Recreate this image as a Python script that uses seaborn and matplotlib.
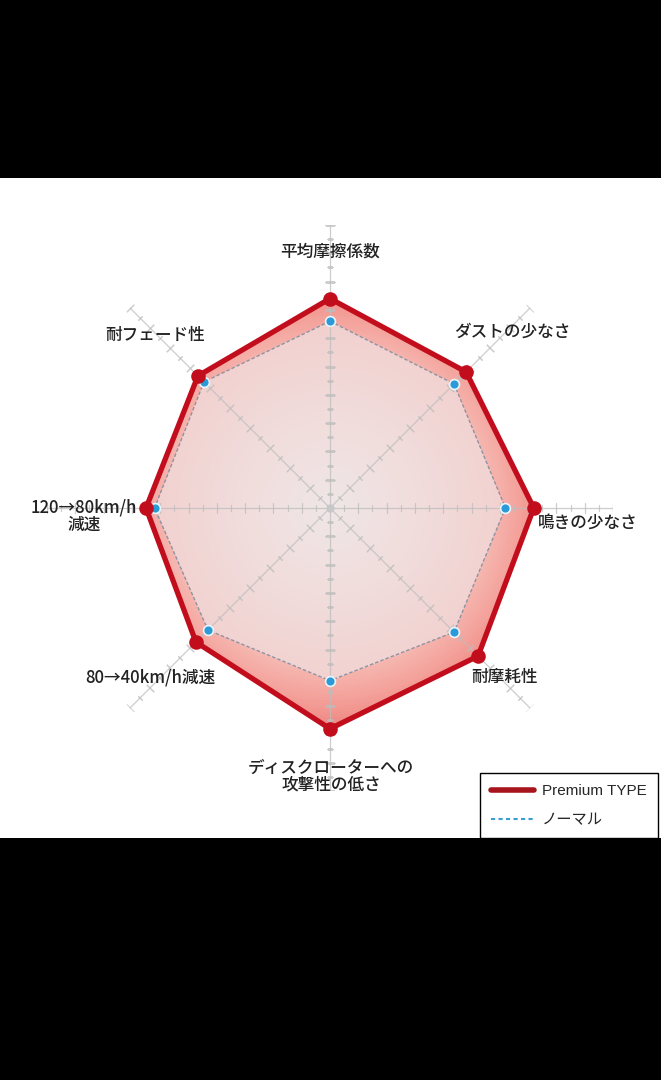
import numpy as np
import matplotlib
matplotlib.use("Agg")
import matplotlib.pyplot as plt
import seaborn as sns
from matplotlib.patches import Rectangle, Polygon
from matplotlib.lines import Line2D
from matplotlib.colors import LinearSegmentedColormap

# ---- data ----
categories = ["平均摩擦係数", "ダストの少なさ", "鳴きの少なさ", "耐摩耗性",
              "ディスクローターへの\n攻撃性の低さ", "80→40km/h減速",
              "120→80km/h\n減速", "耐フェード性"]
premium = [7.4, 6.8, 7.2, 7.4, 7.8, 6.7, 6.5, 6.6]
normal = [6.6, 6.2, 6.2, 6.2, 6.1, 6.1, 6.2, 6.3]
series_names = ["Premium TYPE", "ノーマル"]
r_max = 10

sns.set_theme(style="white")
plt.rcParams['font.family'] = ['Noto Sans CJK JP', 'DejaVu Sans']

W, H = 661, 1080
fig = plt.figure(figsize=(W / 100, H / 100), dpi=100)
fig.patch.set_facecolor("black")
fig.add_artist(Rectangle((0, (H - 838) / H), 1, 660 / H, transform=fig.transFigure,
                         facecolor="white", edgecolor="none", zorder=-10))

cx, cy, R = 330, 508, 283
ax = fig.add_axes([(cx - R) / W, (H - cy - R) / H, 2 * R / W, 2 * R / H], projection="polar")
ax.set_facecolor("none")
ax.set_theta_zero_location("N")
ax.set_theta_direction(-1)
ax.set_ylim(0, r_max)
ax.grid(False)
ax.set_xticks([])
ax.set_yticks([])
ax.spines["polar"].set_visible(False)

n = len(categories)
theta = np.arange(n) * 2 * np.pi / n
th_c = np.append(theta, theta[0])
pr_c = np.append(premium, premium[0])
nr_c = np.append(normal, normal[0])

# gradient fills clipped to polygons
tg = np.linspace(0, 2 * np.pi, 181)
rg = np.linspace(0, r_max, 101)
TT, RR = np.meshgrid(tg, rg)
C = 0.5 * (RR[:-1, :-1] + RR[1:, 1:])

poly_p = Polygon(np.column_stack([th_c, pr_c]), closed=True, transform=ax.transData,
                 facecolor="none", edgecolor="none")
ax.add_patch(poly_p)
cmap_p = LinearSegmentedColormap.from_list("p", ["#f5bcb5", "#f3a19a", "#ec807a"])
m1 = ax.pcolormesh(TT, RR, C, cmap=cmap_p, vmin=5.5, vmax=8.0, shading="flat", zorder=1)
m1.set_clip_path(poly_p)

poly_n = Polygon(np.column_stack([th_c, nr_c]), closed=True, transform=ax.transData,
                 facecolor="none", edgecolor="none")
ax.add_patch(poly_n)
cmap_n = LinearSegmentedColormap.from_list("n", ["#efe6e6", "#f0dcdb", "#f1d0ce"])
m2 = ax.pcolormesh(TT, RR, C, cmap=cmap_n, vmin=0, vmax=6.5, shading="flat", zorder=2)
m2.set_clip_path(poly_n)

# spokes with tick marks
grid_col = "#bdbdbd"
for i, t in enumerate(theta):
    ax.plot([t, t], [0, r_max], color=grid_col, lw=0.9, alpha=0.75, zorder=3)
    ang = 90 - np.degrees(t)
    maj = np.arange(1, r_max + 0.01, 1.0)
    mnr = np.arange(0.5, r_max, 1.0)
    ax.plot(np.full(len(maj), t), maj, ls="none", marker=(2, 2, ang), ms=7.5,
            mec=grid_col, mew=0.8, alpha=0.75, zorder=3)
    ax.plot(np.full(len(mnr), t), mnr, ls="none", marker=(2, 2, ang), ms=4,
            mec=grid_col, mew=0.8, alpha=0.75, zorder=3)
ax.plot([0], [0], marker="o", ms=5, color="#c8c8c8", zorder=3)

# normal series
sns.lineplot(x=th_c, y=nr_c, sort=False, ax=ax, color="#8e93a3", lw=1.0,
             linestyle=(0, (2.5, 1.5)), zorder=4, estimator=None)
sns.scatterplot(x=theta, y=normal, ax=ax, color="#2b9bd8", s=50, edgecolor="#eaf4fb",
                linewidth=1.2, zorder=6)

# premium series
sns.lineplot(x=th_c, y=pr_c, sort=False, ax=ax, color="#c20d1d", lw=3.8, zorder=5,
             estimator=None)
sns.scatterplot(x=theta, y=premium, ax=ax, color="#c20d1d", s=110, edgecolor="#c20d1d",
                linewidth=0, zorder=7)
ax.set_xlabel("")
ax.set_ylabel("")
ax.set_ylim(0, r_max)

# labels (pixel positions)
lab_pos = [(330, 252, "center"), (512, 332, "center"), (588, 523, "center"),
           (505, 677, "center"), (331, 776, "center"), (150, 677, "center"),
           (84, 516, "center"), (155, 335, "center")]
for (x, y, ha), lab in zip(lab_pos, categories):
    fig.text(x / W, 1 - y / H, lab, ha=ha, va="center", fontsize=12,
             color="#222222", linespacing=0.95, fontweight="medium")

# legend
handles = [Line2D([], [], color="#a8141c", lw=4),
           Line2D([], [], color="#3a9fd0", lw=1.5, linestyle=(0, (2, 1.6)))]
leg = fig.legend(handles, series_names, loc="upper left",
                 bbox_to_anchor=(480 / W, (H - 773) / H), borderaxespad=0,
                 fancybox=False, frameon=True, edgecolor="black", framealpha=1,
                 handlelength=2.8, handletextpad=0.5,
                 borderpad=0.75, labelspacing=0.95,
                 prop={'family': ['Liberation Sans', 'Noto Sans CJK JP'], 'size': 11})
leg.get_frame().set_linewidth(1.0)

fig.add_artist(Rectangle((0, 0), 1, (H - 838) / H, transform=fig.transFigure,
                         facecolor="black", edgecolor="none", zorder=20))
fig.add_artist(Rectangle((0, (H - 178) / H), 1, 178 / H, transform=fig.transFigure,
                         facecolor="black", edgecolor="none", zorder=20))

fig.savefig("out.png", dpi=100, facecolor="black")
